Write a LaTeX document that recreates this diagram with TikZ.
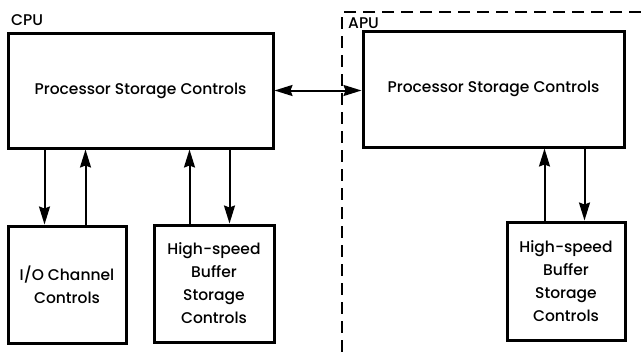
\documentclass[tikz,border=0pt]{standalone}
\usepackage{fontspec}
\IfFontExistsTF{Poppins Medium}{\setmainfont{Poppins Medium}}{\setmainfont{Poppins}}
\usetikzlibrary{positioning, arrows.meta, calc}

\begin{document}
\begin{tikzpicture}[x=1pt, y=-1pt,
  unit/.style={draw, line width=3pt, align=center, inner sep=0pt,
               font=\fontsize{15.5}{23}\selectfont},
  tag/.style={inner sep=0pt, anchor=base west, font=\fontsize{15.5}{17}\selectfont},
  arr/.style={-{Stealth[length=18pt, width=11pt, inset=2pt]}, line width=2pt},
  link/.style={{Stealth[length=18pt, width=11pt, inset=2pt]}-{Stealth[length=18pt, width=11pt, inset=2pt]},
               line width=2pt},
  dbox/.style={line width=2.6pt, dash pattern=on 12pt off 7pt},
]
\useasboundingbox (0,0) rectangle (641,356);

% CPU side
\node[tag] (cpulab) at (11,26) {CPU};
\node[unit, minimum width=265pt, minimum height=115pt] (cpu) at (140.5,90.5)
  {Processor Storage Controls};
\node[unit, minimum width=118pt, minimum height=117pt] (io) at (67,284.5)
  {I/O Channel\\Controls};
\node[unit, minimum width=120pt, minimum height=117pt] (hsb) at (214,283.5)
  {High-speed\\Buffer\\Storage\\Controls};

% APU side
\coordinate (apuc) at (342,12);
\draw[dbox] (641,12) -- (apuc) -- (342,356);
\node[tag] (apulab) at (348,28) {APU};
\node[unit, minimum width=261pt, minimum height=116pt] (apu) at (493.5,89)
  {Processor Storage Controls};
\node[unit, minimum width=118pt, minimum height=118pt] (hsbx) at (566,281)
  {High-speed\\Buffer\\Storage\\Controls};

% Arrows
\coordinate (io-in)   at ([xshift=38pt]io.north west);
\coordinate (io-out)  at ([xshift=79pt]io.north west);
\coordinate (hsb-out) at ([xshift=37pt]hsb.north west);
\coordinate (hsb-in)  at ([xshift=77pt]hsb.north west);
\coordinate (hsbx-out) at ([xshift=39pt]hsbx.north west);
\coordinate (hsbx-in)  at ([xshift=79pt]hsbx.north west);

\draw[arr] (io-in |- cpu.south) -- (io-in);
\draw[arr] (io-out) -- (io-out |- cpu.south);
\draw[arr] (hsb-out) -- (hsb-out |- cpu.south);
\draw[arr] (hsb-in |- cpu.south) -- (hsb-in);
\draw[arr] (hsbx-out) -- (hsbx-out |- apu.south);
\draw[arr] (hsbx-in |- apu.south) -- (hsbx-in);
\draw[link] (cpu.east) -- (cpu.east -| apu.west);

\end{tikzpicture}
\end{document}
